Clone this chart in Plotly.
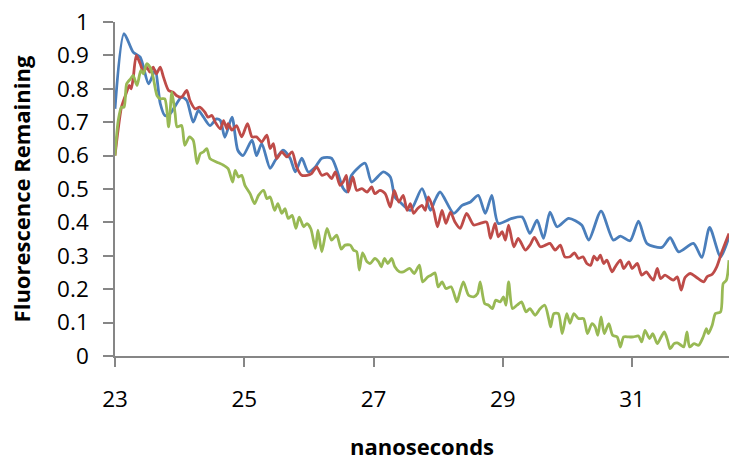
import plotly.graph_objects as go

# ---- data ----
blue_t = [23.00, 23.14, 23.28, 23.39, 23.52, 23.62, 23.70, 23.77, 23.85, 24.03, 24.11, 24.21, 24.29, 24.37,
          24.47, 24.57, 24.63, 24.70, 24.81, 24.90, 24.98, 25.12, 25.19, 25.27, 25.40, 25.48, 25.60, 25.71,
          25.79, 25.89, 25.99, 26.10, 26.20, 26.35, 26.53, 26.59, 26.66, 26.87, 26.97, 27.15, 27.26, 27.33,
          27.41, 27.57, 27.75, 27.88, 27.95, 28.03, 28.24, 28.37, 28.50, 28.62, 28.73, 28.83, 28.93, 29.14,
          29.30, 29.42, 29.53, 29.63, 29.73, 29.84, 30.02, 30.22, 30.33, 30.52, 30.71, 30.82, 30.97, 31.10,
          31.23, 31.46, 31.59, 31.72, 31.95, 32.08, 32.20, 32.37, 32.50]
blue_y = [0.74, 0.965, 0.91, 0.895, 0.815, 0.855, 0.756, 0.72, 0.725, 0.775, 0.765, 0.70, 0.735, 0.715,
          0.69, 0.71, 0.705, 0.655, 0.715, 0.616, 0.60, 0.646, 0.60, 0.636, 0.562, 0.586, 0.616, 0.592,
          0.551, 0.592, 0.551, 0.566, 0.592, 0.592, 0.502, 0.491, 0.541, 0.577, 0.521, 0.551, 0.536, 0.476,
          0.461, 0.436, 0.501, 0.436, 0.466, 0.491, 0.427, 0.451, 0.461, 0.481, 0.427, 0.481, 0.397, 0.412,
          0.416, 0.367, 0.407, 0.352, 0.431, 0.387, 0.412, 0.392, 0.347, 0.434, 0.347, 0.359, 0.345, 0.404,
          0.337, 0.325, 0.354, 0.312, 0.337, 0.295, 0.385, 0.297, 0.357]

red_t = [23.00, 23.05, 23.10, 23.18, 23.22, 23.25, 23.28, 23.33, 23.39, 23.44, 23.49, 23.54, 23.59, 23.64,
         23.70, 23.75, 23.83, 23.90, 23.95, 24.03, 24.11, 24.16, 24.24, 24.31, 24.39, 24.44, 24.50, 24.55,
         24.63, 24.68, 24.73, 24.75, 24.81, 24.88, 24.96, 25.05, 25.12, 25.19, 25.27, 25.35, 25.40, 25.45,
         25.50, 25.58, 25.66, 25.74, 25.81, 25.89, 25.97, 26.04, 26.12, 26.20, 26.28, 26.35, 26.41, 26.48,
         26.53, 26.58, 26.61, 26.68, 26.74, 26.82, 26.90, 26.97, 27.02, 27.10, 27.18, 27.26, 27.32, 27.39,
         27.46, 27.52, 27.57, 27.62, 27.68, 27.75, 27.80, 27.85, 27.93, 27.99, 28.06, 28.12, 28.19, 28.26,
         28.34, 28.44, 28.55, 28.65, 28.75, 28.81, 28.88, 28.93, 28.99, 29.04, 29.09, 29.17, 29.24, 29.35,
         29.42, 29.49, 29.58, 29.66, 29.73, 29.81, 29.89, 29.96, 30.04, 30.11, 30.17, 30.24, 30.30, 30.36,
         30.41, 30.46, 30.51, 30.56, 30.61, 30.69, 30.74, 30.82, 30.87, 30.95, 31.00, 31.08, 31.15, 31.22,
         31.28, 31.33, 31.39, 31.44, 31.51, 31.59, 31.64, 31.70, 31.76, 31.82, 31.90, 32.00, 32.11, 32.16,
         32.24, 32.31, 32.39, 32.50]
red_y = [0.60, 0.68, 0.745, 0.79, 0.81, 0.80, 0.83, 0.90, 0.875, 0.85, 0.865, 0.85, 0.865, 0.845,
         0.865, 0.835, 0.795, 0.79, 0.78, 0.775, 0.795, 0.765, 0.74, 0.745, 0.73, 0.715, 0.72, 0.70,
         0.68, 0.705, 0.68, 0.696, 0.676, 0.69, 0.656, 0.696, 0.656, 0.656, 0.641, 0.661, 0.621, 0.636,
         0.591, 0.611, 0.596, 0.611, 0.566, 0.541, 0.541, 0.546, 0.566, 0.541, 0.546, 0.531, 0.551, 0.511,
         0.521, 0.541, 0.491, 0.536, 0.496, 0.501, 0.491, 0.506, 0.486, 0.496, 0.486, 0.446, 0.496, 0.461,
         0.481, 0.436, 0.456, 0.427, 0.441, 0.451, 0.436, 0.476, 0.436, 0.387, 0.436, 0.397, 0.431, 0.401,
         0.382, 0.427, 0.392, 0.397, 0.401, 0.352, 0.397, 0.357, 0.372, 0.347, 0.392, 0.327, 0.352, 0.317,
         0.332, 0.355, 0.327, 0.332, 0.337, 0.317, 0.332, 0.297, 0.297, 0.309, 0.292, 0.297, 0.277, 0.272,
         0.299, 0.287, 0.302, 0.277, 0.287, 0.252, 0.267, 0.287, 0.262, 0.282, 0.262, 0.277, 0.242, 0.252,
         0.237, 0.227, 0.262, 0.232, 0.242, 0.232, 0.227, 0.237, 0.197, 0.235, 0.247, 0.235, 0.222, 0.237,
         0.245, 0.267, 0.312, 0.367]

green_t = [23.00, 23.05, 23.10, 23.14, 23.18, 23.24, 23.28, 23.34, 23.40, 23.44, 23.49, 23.54, 23.59, 23.65,
           23.70, 23.77, 23.83, 23.88, 23.93, 23.96, 24.03, 24.08, 24.15, 24.21, 24.27, 24.32, 24.37, 24.42,
           24.47, 24.57, 24.68, 24.75, 24.82, 24.86, 24.91, 24.96, 25.01, 25.09, 25.16, 25.22, 25.30, 25.35,
           25.40, 25.47, 25.52, 25.58, 25.63, 25.68, 25.74, 25.80, 25.85, 25.92, 25.97, 26.03, 26.10, 26.14,
           26.20, 26.28, 26.35, 26.43, 26.50, 26.56, 26.64, 26.69, 26.74, 26.78, 26.83, 26.90, 26.95, 27.02,
           27.08, 27.12, 27.17, 27.22, 27.28, 27.33, 27.40, 27.46, 27.56, 27.63, 27.71, 27.76, 27.84, 27.89,
           27.95, 28.00, 28.06, 28.12, 28.20, 28.29, 28.31, 28.39, 28.47, 28.55, 28.61, 28.65, 28.72, 28.78,
           28.84, 28.89, 28.96, 29.01, 29.05, 29.09, 29.15, 29.22, 29.29, 29.36, 29.42, 29.50, 29.58, 29.65,
           29.71, 29.74, 29.79, 29.86, 29.92, 29.99, 30.04, 30.10, 30.17, 30.25, 30.31, 30.38, 30.43, 30.47,
           30.52, 30.57, 30.64, 30.70, 30.77, 30.82, 30.87, 30.95, 31.02, 31.10, 31.15, 31.20, 31.27, 31.32,
           31.39, 31.45, 31.50, 31.55, 31.59, 31.65, 31.70, 31.76, 31.80, 31.85, 31.89, 31.96, 32.03, 32.10,
           32.15, 32.18, 32.24, 32.29, 32.37, 32.41, 32.46, 32.50]
green_y = [0.60, 0.705, 0.745, 0.745, 0.815, 0.83, 0.84, 0.81, 0.855, 0.845, 0.875, 0.865, 0.835, 0.78,
           0.77, 0.77, 0.686, 0.79, 0.726, 0.686, 0.69, 0.631, 0.656, 0.646, 0.576, 0.606, 0.611, 0.621,
           0.591, 0.581, 0.571, 0.561, 0.521, 0.556, 0.536, 0.541, 0.511, 0.486, 0.456, 0.481, 0.496, 0.471,
           0.476, 0.436, 0.456, 0.427, 0.441, 0.412, 0.421, 0.382, 0.416, 0.387, 0.396, 0.381, 0.322, 0.377,
           0.312, 0.382, 0.347, 0.362, 0.320, 0.332, 0.332, 0.317, 0.312, 0.257, 0.309, 0.282, 0.277, 0.292,
           0.282, 0.267, 0.292, 0.277, 0.292, 0.267, 0.252, 0.252, 0.262, 0.247, 0.272, 0.222, 0.237, 0.242,
           0.249, 0.207, 0.222, 0.202, 0.207, 0.162, 0.172, 0.222, 0.182, 0.177, 0.187, 0.222, 0.157, 0.152,
           0.142, 0.167, 0.162, 0.177, 0.152, 0.222, 0.142, 0.152, 0.162, 0.132, 0.142, 0.122, 0.142, 0.152,
           0.112, 0.087, 0.127, 0.127, 0.067, 0.127, 0.098, 0.127, 0.112, 0.112, 0.067, 0.097, 0.087, 0.062,
           0.117, 0.067, 0.097, 0.062, 0.057, 0.027, 0.057, 0.057, 0.057, 0.060, 0.042, 0.077, 0.052, 0.067,
           0.037, 0.057, 0.072, 0.047, 0.022, 0.037, 0.039, 0.032, 0.027, 0.072, 0.027, 0.037, 0.032, 0.057,
           0.082, 0.067, 0.092, 0.127, 0.132, 0.217, 0.227, 0.287]

x_ticks = [23, 25, 27, 29, 31]
y_ticks = [0, 0.1, 0.2, 0.3, 0.4, 0.5, 0.6, 0.7, 0.8, 0.9, 1]
y_tick_labels = ["0", "0.1", "0.2", "0.3", "0.4", "0.5", "0.6", "0.7", "0.8", "0.9", "1"]

FONT = "Open Sans"
AXIS_GRAY = "#868686"

fig = go.Figure()
for t, y, color in [(blue_t, blue_y, "#4A7EBB"), (red_t, red_y, "#BE4B48"), (green_t, green_y, "#98B954")]:
    fig.add_trace(go.Scatter(x=t, y=y, mode="lines",
                             line=dict(color=color, width=2.8, shape="spline", smoothing=0.7),
                             showlegend=False, hoverinfo="skip"))

fig.update_layout(
    width=729, height=461,
    margin=dict(l=115, r=0, t=22, b=105),
    paper_bgcolor="white", plot_bgcolor="white",
    font=dict(family=FONT, color="black"),
    showlegend=False,
)
fig.update_xaxes(
    range=[23, 32.5], tickvals=x_ticks, ticktext=[str(v) for v in x_ticks],
    showgrid=False, zeroline=False, showline=True, linecolor=AXIS_GRAY, linewidth=1.5,
    ticks="outside", ticklen=9, tickcolor=AXIS_GRAY, tickwidth=1.5,
    tickfont=dict(size=22.5, family=FONT), ticklabelstandoff=13,
    title=dict(text="<b>nanoseconds</b>", font=dict(size=22, family=FONT), standoff=32),
    automargin=False,
)
fig.update_yaxes(
    range=[0, 1], tickvals=y_ticks, ticktext=y_tick_labels,
    showgrid=False, zeroline=False, showline=True, linecolor=AXIS_GRAY, linewidth=1.5,
    ticks="outside", ticklen=10, tickcolor=AXIS_GRAY, tickwidth=1.5,
    tickfont=dict(size=22.5, family=FONT), ticklabelstandoff=10,
    title=dict(text="<b>Fluorescence Remaining</b>", font=dict(size=22, family=FONT), standoff=20),
    automargin=False,
)

fig.write_html("out.html", post_script="document.body.style.margin='0';",
               config={"displayModeBar": False})
